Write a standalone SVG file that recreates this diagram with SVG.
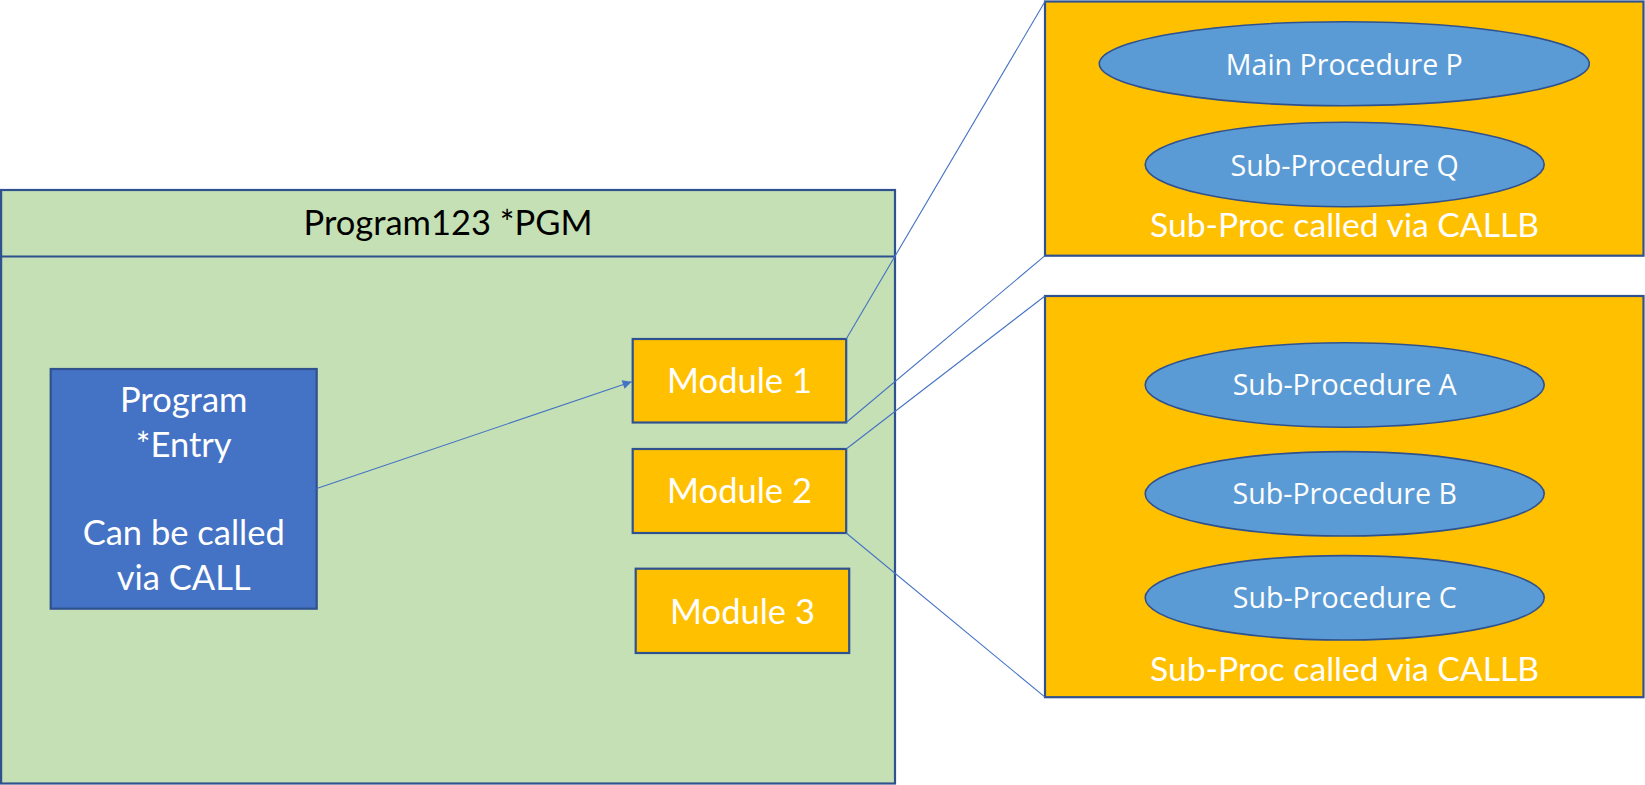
<svg xmlns="http://www.w3.org/2000/svg" width="1645" height="785" viewBox="0 0 1645 785">
<style>
.bdr{stroke:#2F528F;stroke-width:2.2}
.green{fill:#C5E0B4}
.orange{fill:#FFC000}
.blue{fill:#4472C4}
.ell{fill:#5B9BD5;stroke:#2F528F;stroke-width:1.6}
.cal{font-family:Lato,"Liberation Sans",sans-serif;font-size:34.5px;text-anchor:middle}
.cap{font-size:33.7px}
.seg{font-family:"Open Sans","Liberation Sans",sans-serif;font-size:28.6px;text-anchor:middle;fill:#FFFFFF}
.w{fill:#FFFFFF}
.k{fill:#000000}
.conn{stroke:#4472C4;stroke-width:1.1;fill:none}
</style>
<defs>
<marker id="arr" viewBox="0 0 10 10" refX="10" refY="5" markerWidth="11" markerHeight="9" markerUnits="userSpaceOnUse" orient="auto">
<path d="M0,0 L10,5 L0,10 z" fill="#4472C4"/>
</marker>
</defs>
<rect width="1645" height="785" fill="#FFFFFF"/>
<g id="program123">
<rect class="green bdr" x="1.1" y="190" width="893.9" height="593.5"/>
<line class="bdr" x1="1.1" y1="256.5" x2="895" y2="256.5"/>
<text class="cal k" x="448" y="235">Program123 *PGM</text>
</g>
<g id="program-entry">
<rect class="blue bdr" x="50.7" y="369" width="266" height="239.7"/>
<text class="cal w" x="183.7" y="411.7">Program</text>
<text class="cal w" x="183.7" y="456.7">*Entry</text>
<text class="cal w" x="183.7" y="545">Can be called</text>
<text class="cal w" x="183.7" y="590">via CALL</text>
</g>
<g id="module1">
<rect class="orange bdr" x="632.7" y="339" width="213.5" height="83.5"/>
<text class="cal w" x="739.5" y="392.7">Module 1</text>
</g>
<g id="module2">
<rect class="orange bdr" x="632.7" y="449" width="213.5" height="84"/>
<text class="cal w" x="739.5" y="503.3">Module 2</text>
</g>
<g id="module3">
<rect class="orange bdr" x="635.7" y="568.7" width="213.5" height="84.3"/>
<text class="cal w" x="742.5" y="624.3">Module 3</text>
</g>
<g id="callb-group-1">
<rect class="orange bdr" x="1045" y="1.5" width="598.5" height="254.2"/>
<text class="cal cap w" x="1344.5" y="236.7">Sub-Proc called via CALLB</text>
</g>
<g id="main-procedure-p">
<ellipse class="ell" cx="1344.3" cy="63.7" rx="245" ry="42"/>
<text class="seg" x="1344.3" y="75">Main Procedure P</text>
</g>
<g id="sub-procedure-q">
<ellipse class="ell" cx="1344.7" cy="164.5" rx="199.5" ry="42.2"/>
<text class="seg" x="1344.7" y="175.7">Sub-Procedure Q</text>
</g>
<g id="callb-group-2">
<rect class="orange bdr" x="1045" y="296" width="598.5" height="401.2"/>
<text class="cal cap w" x="1344.5" y="680.7">Sub-Proc called via CALLB</text>
</g>
<g id="sub-procedure-a">
<ellipse class="ell" cx="1344.7" cy="385" rx="199.5" ry="42.2"/>
<text class="seg" x="1344.7" y="395">Sub-Procedure A</text>
</g>
<g id="sub-procedure-b">
<ellipse class="ell" cx="1344.7" cy="493.8" rx="199.5" ry="42.2"/>
<text class="seg" x="1344.7" y="504">Sub-Procedure B</text>
</g>
<g id="sub-procedure-c">
<ellipse class="ell" cx="1344.7" cy="597.8" rx="199.5" ry="42.2"/>
<text class="seg" x="1344.7" y="607.7">Sub-Procedure C</text>
</g>
<g id="connectors">
<line class="conn" x1="316.7" y1="488.6" x2="631.6" y2="381.7" marker-end="url(#arr)"/>
<line class="conn" x1="846.2" y1="339" x2="1045" y2="1.5"/>
<line class="conn" x1="846.2" y1="422.5" x2="1045" y2="255.7"/>
<line class="conn" x1="846.2" y1="449" x2="1045" y2="296"/>
<line class="conn" x1="846.2" y1="533" x2="1045" y2="697.2"/>
</g>
</svg>
